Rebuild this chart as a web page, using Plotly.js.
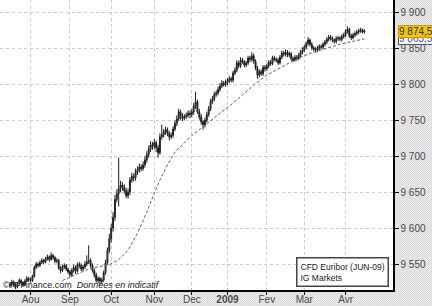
<!DOCTYPE html>
<html>
<head>
<meta charset="utf-8">
<script src="https://cdn.plot.ly/plotly-3.0.1.min.js"></script>
<style>
html,body{margin:0;padding:0;}
body{width:432px;height:306px;overflow:hidden;
background:repeating-conic-gradient(#ebebeb 0 25%, #d9d9d9 0 50%) 0 0/2px 2px;}
#chart{width:432px;height:306px;}
</style>
</head>
<body>
<div id="chart"></div>
<script>
// Trading calendar
const startDate = '2008-07-17';
const endDate = '2009-04-15';
const holidays = ['2008-12-24','2008-12-25','2008-12-26','2008-12-31','2009-01-01'];

// Daily OHLC, month by month (Jul 2008 .. Apr 2009)
const closeJul = [9522,9525,9520,9518,9523,9527,9524,9521,9526,9530,9528];
const openJul  = [9520,9522,9525,9520,9518,9523,9527,9524,9521,9526,9530];
const highJul  = [9525,9528,9527,9523,9525,9530,9529,9526,9529,9533,9532];
const lowJul   = [9517,9519,9518,9515,9516,9521,9521,9518,9519,9524,9525];

const closeAug = [9527,9533,9545,9550,9548,9552,9555,9553,9557,9560,9556,9562,9559,9554,9555,9544,9541,9546,9548,9543,9539];
const openAug  = [9528,9527,9533,9545,9550,9548,9552,9555,9553,9557,9560,9556,9562,9559,9554,9555,9544,9541,9546,9548,9543];
const highAug  = [9531,9535,9548,9553,9552,9555,9558,9557,9560,9563,9562,9566,9564,9561,9558,9557,9547,9549,9551,9550,9545];
const lowAug   = [9524,9525,9531,9543,9545,9546,9550,9550,9551,9555,9553,9555,9556,9551,9551,9542,9537,9539,9543,9540,9536];

const closeSep = [9535,9541,9545,9540,9549,9548,9543,9546,9550,9553,9555,9548,9541,9535,9527,9530,9526,9528,9538,9552,9569,9585];
const openSep  = [9539,9535,9541,9545,9540,9549,9548,9543,9546,9550,9553,9555,9548,9541,9535,9527,9530,9526,9528,9538,9552,9569];
const highSep  = [9542,9544,9549,9548,9552,9553,9551,9549,9554,9562,9576,9558,9551,9544,9538,9533,9532,9531,9541,9556,9573,9592];
const lowSep   = [9532,9532,9538,9536,9538,9544,9540,9540,9543,9547,9550,9545,9538,9531,9524,9523,9520,9522,9525,9535,9549,9565];

const closeOct = [9600,9615,9640,9648,9655,9660,9657,9652,9645,9650,9667,9672,9670,9678,9681,9685,9683,9688,9695,9702,9710,9716,9714];
const openOct  = [9585,9600,9615,9640,9648,9655,9660,9657,9652,9645,9650,9667,9672,9670,9678,9681,9685,9683,9688,9695,9702,9710,9716];
const highOct  = [9606,9622,9646,9654,9698,9666,9664,9661,9656,9655,9671,9677,9676,9683,9686,9690,9689,9693,9700,9707,9715,9721,9720];
const lowOct   = [9580,9595,9610,9636,9630,9650,9652,9648,9642,9641,9646,9663,9665,9666,9674,9677,9679,9680,9684,9691,9698,9706,9709];

const closeNov = [9719,9712,9705,9727,9730,9734,9737,9732,9727,9729,9738,9746,9752,9762,9756,9753,9755,9757,9760,9758];
const openNov  = [9714,9719,9712,9705,9727,9730,9734,9737,9732,9727,9729,9738,9746,9752,9762,9756,9753,9755,9757,9760];
const highNov  = [9724,9722,9716,9732,9744,9738,9741,9740,9735,9733,9742,9750,9757,9766,9765,9760,9759,9761,9764,9764];
const lowNov   = [9710,9706,9698,9702,9723,9726,9730,9728,9722,9724,9726,9735,9742,9749,9751,9749,9750,9752,9754,9753];

const closeDec = [9762,9770,9776,9762,9755,9748,9744,9750,9758,9766,9776,9780,9786,9788,9793,9798,9802,9800,9803];
const openDec  = [9758,9762,9770,9776,9762,9755,9748,9744,9750,9758,9766,9776,9780,9786,9788,9793,9798,9802,9800];
const highDec  = [9766,9774,9790,9779,9766,9759,9751,9754,9762,9770,9780,9784,9790,9792,9797,9802,9806,9805,9807];
const lowDec   = [9754,9758,9766,9759,9751,9744,9737,9740,9747,9755,9763,9773,9777,9783,9785,9790,9795,9797,9797];

const closeJan = [9805,9808,9806,9816,9820,9830,9826,9834,9832,9827,9830,9837,9835,9840,9832,9823,9813,9818,9815,9824,9822];
const openJan  = [9803,9805,9808,9806,9816,9820,9830,9826,9834,9832,9827,9830,9837,9835,9840,9832,9823,9813,9818,9815,9824];
const highJan  = [9809,9812,9811,9819,9824,9834,9833,9838,9837,9834,9833,9840,9840,9845,9843,9835,9826,9821,9821,9827,9827];
const lowJan   = [9799,9802,9803,9803,9813,9817,9823,9823,9829,9824,9824,9827,9831,9832,9829,9820,9808,9810,9812,9812,9818];

const closeFeb = [9826,9831,9829,9837,9835,9834,9830,9838,9844,9842,9845,9841,9843,9836,9834,9838,9836,9841,9845,9848];
const openFeb  = [9822,9826,9831,9829,9837,9835,9834,9830,9838,9844,9842,9845,9841,9843,9836,9834,9838,9836,9841,9845];
const highFeb  = [9829,9834,9834,9840,9840,9838,9837,9841,9847,9847,9849,9848,9846,9845,9839,9841,9841,9844,9848,9852];
const lowFeb   = [9819,9823,9826,9827,9832,9831,9827,9828,9835,9839,9839,9838,9838,9833,9831,9832,9833,9834,9838,9842];

const closeMar = [9852,9857,9862,9856,9851,9849,9848,9851,9853,9852,9856,9859,9863,9866,9864,9862,9860,9864,9865,9863,9867,9869];
const openMar  = [9848,9852,9857,9862,9856,9851,9849,9848,9851,9853,9852,9856,9859,9863,9866,9864,9862,9860,9864,9865,9863,9867];
const highMar  = [9855,9860,9866,9864,9859,9854,9852,9854,9856,9856,9859,9862,9866,9869,9869,9867,9864,9867,9868,9867,9870,9872];
const lowMar   = [9845,9849,9854,9853,9848,9846,9845,9845,9848,9849,9849,9853,9856,9860,9861,9859,9857,9857,9861,9860,9860,9864];

const closeApr = [9874,9877,9868,9865,9869,9871,9873,9875,9876,9873,9874.5];
const openApr  = [9869,9874,9877,9868,9865,9869,9871,9873,9875,9876,9873];
const highApr  = [9877,9881,9879,9871,9872,9874,9876,9878,9879,9878,9877];
const lowApr   = [9866,9871,9865,9862,9863,9866,9868,9870,9872,9871,9871];

// Moving average (dashed)
const maDates  = ['2008-08-26','2008-09-04','2008-09-12','2008-09-22','2008-09-30','2008-10-07','2008-10-14','2008-10-21','2008-10-28','2008-11-03','2008-11-06','2008-11-12','2008-11-18','2008-11-24','2008-12-01','2008-12-08','2008-12-15','2008-12-22','2009-01-06','2009-01-14','2009-01-22','2009-02-02','2009-02-12','2009-02-24','2009-03-06','2009-03-18','2009-03-30','2009-04-15'];
const maValues = [9527,9535,9542,9546,9549,9556,9569,9593,9622,9649,9667,9688,9706,9716,9729,9739,9750,9760,9772,9786,9799,9813,9825,9836,9844,9851,9857,9863.5];

// Axis labels
const monthTicks  = ['2008-08-01','2008-09-01','2008-10-01','2008-11-03','2008-12-01','2009-01-02','2009-02-02','2009-03-02','2009-04-01'];
const monthLabels = ['Aou','Sep','Oct','Nov','Dec','<b>2009</b>','Fev','Mar','Avr'];
const yTicks      = [9550,9600,9650,9700,9750,9800,9850,9900];
const yLabels     = ['9 550','9 600','9 650','9 700','9 750','9 800','9 850','9 900'];
const lastPrice = 9874.5, lastPriceText = '9 874,5';
const lastMA = 9863.5, lastMAText = '9 863,5';
const legendText = 'CFD Euribor (JUN-09)<br>IG Markets';
const creditText = '©IT-Finance.com  <i>Données en indicatif</i>';

// build trading dates (weekdays excluding holidays)
function tradingDays(a, b, hol){
  const out = [];
  const d = new Date(a + 'T00:00:00Z');
  const e = new Date(b + 'T00:00:00Z');
  while (d <= e){
    const s = d.toISOString().slice(0,10);
    const w = d.getUTCDay();
    if (w !== 0 && w !== 6 && hol.indexOf(s) < 0) out.push(s);
    d.setUTCDate(d.getUTCDate() + 1);
  }
  return out;
}
const dates = tradingDays(startDate, endDate, holidays);
const closes = [].concat(closeJul,closeAug,closeSep,closeOct,closeNov,closeDec,closeJan,closeFeb,closeMar,closeApr);
const opens  = [].concat(openJul,openAug,openSep,openOct,openNov,openDec,openJan,openFeb,openMar,openApr);
const highs  = [].concat(highJul,highAug,highSep,highOct,highNov,highDec,highJan,highFeb,highMar,highApr);
const lows   = [].concat(lowJul,lowAug,lowSep,lowOct,lowNov,lowDec,lowJan,lowFeb,lowMar,lowApr);

const traces = [
  {
    type: 'scatter', mode: 'lines', x: maDates, y: maValues,
    line: {color: '#5a5a80', width: 1, dash: '3px,2px'}, hoverinfo: 'skip'
  },
  {
    type: 'candlestick', x: dates, open: opens, high: highs, low: lows, close: closes,
    whiskerwidth: 0,
    increasing: {line: {color: '#1e1e1e', width: 1}, fillcolor: '#66745f'},
    decreasing: {line: {color: '#1e1e1e', width: 1}, fillcolor: '#1e1e1e'},
    hoverinfo: 'skip'
  }
];

const layout = {
  width: 432, height: 306,
  margin: {l: 0, r: 39, t: 0, b: 16, pad: 0},
  paper_bgcolor: 'rgba(0,0,0,0)',
  plot_bgcolor: '#ffffff',
  showlegend: false,
  font: {family: 'Arial, Liberation Sans, sans-serif', size: 10, color: '#4a4a4a'},
  xaxis: {
    type: 'date',
    range: ['2008-07-09 17:00', '2009-05-06 07:00'],
    rangebreaks: [{bounds: ['sat', 'mon']}, {values: holidays}],
    rangeslider: {visible: false},
    tickmode: 'array', tickvals: monthTicks, ticktext: monthLabels,
    ticks: 'outside', ticklen: 3, tickcolor: '#000', tickwidth: 1,
    ticklabelstandoff: -4,
    showline: true, linecolor: '#000', linewidth: 2,
    showgrid: true, gridcolor: '#c9c9d8', gridwidth: 1, griddash: 'dot',
    tickfont: {size: 10, color: '#4a4a4a'},
    zeroline: false, fixedrange: true
  },
  yaxis: {
    side: 'right',
    range: [9513.8, 9917.7],
    tickmode: 'array', tickvals: yTicks, ticktext: yLabels,
    ticks: 'outside', ticklen: 4, tickcolor: '#000', tickwidth: 1,
    showline: true, linecolor: '#000', linewidth: 1.5,
    showgrid: true, gridcolor: '#c9c9d8', gridwidth: 1, griddash: 'dot',
    tickfont: {size: 10, color: '#4a4a4a'},
    zeroline: false, fixedrange: true
  },
  annotations: [
    {
      xref: 'paper', yref: 'y', x: 1.012, y: lastMA, xanchor: 'left', yanchor: 'middle',
      text: lastMAText, showarrow: false, font: {size: 10, color: '#4a4aa0'},
      bgcolor: '#ffffff', bordercolor: '#555', borderwidth: 1, borderpad: 0
    },
    {
      xref: 'paper', yref: 'y', x: 1.012, y: lastPrice, xanchor: 'left', yanchor: 'middle',
      text: lastPriceText, showarrow: false, font: {size: 10, color: '#333'},
      bgcolor: '#f1c40f', bordercolor: '#c89a00', borderwidth: 1, borderpad: 0
    },
    {
      xref: 'paper', yref: 'paper', x: 0.99, y: 0.01, xanchor: 'right', yanchor: 'bottom',
      text: legendText, align: 'left', showarrow: false,
      font: {size: 8.5, color: '#222'},
      bgcolor: '#ffffff', bordercolor: '#444', borderwidth: 1.5, borderpad: 3
    },
    {
      xref: 'paper', yref: 'paper', x: 0.003, y: 0.017, xanchor: 'left', yanchor: 'middle',
      text: creditText, showarrow: false, font: {size: 9, color: '#222'}
    }
  ]
};

Plotly.newPlot('chart', traces, layout, {staticPlot: true, displayModeBar: false});
</script>
</body>
</html>
